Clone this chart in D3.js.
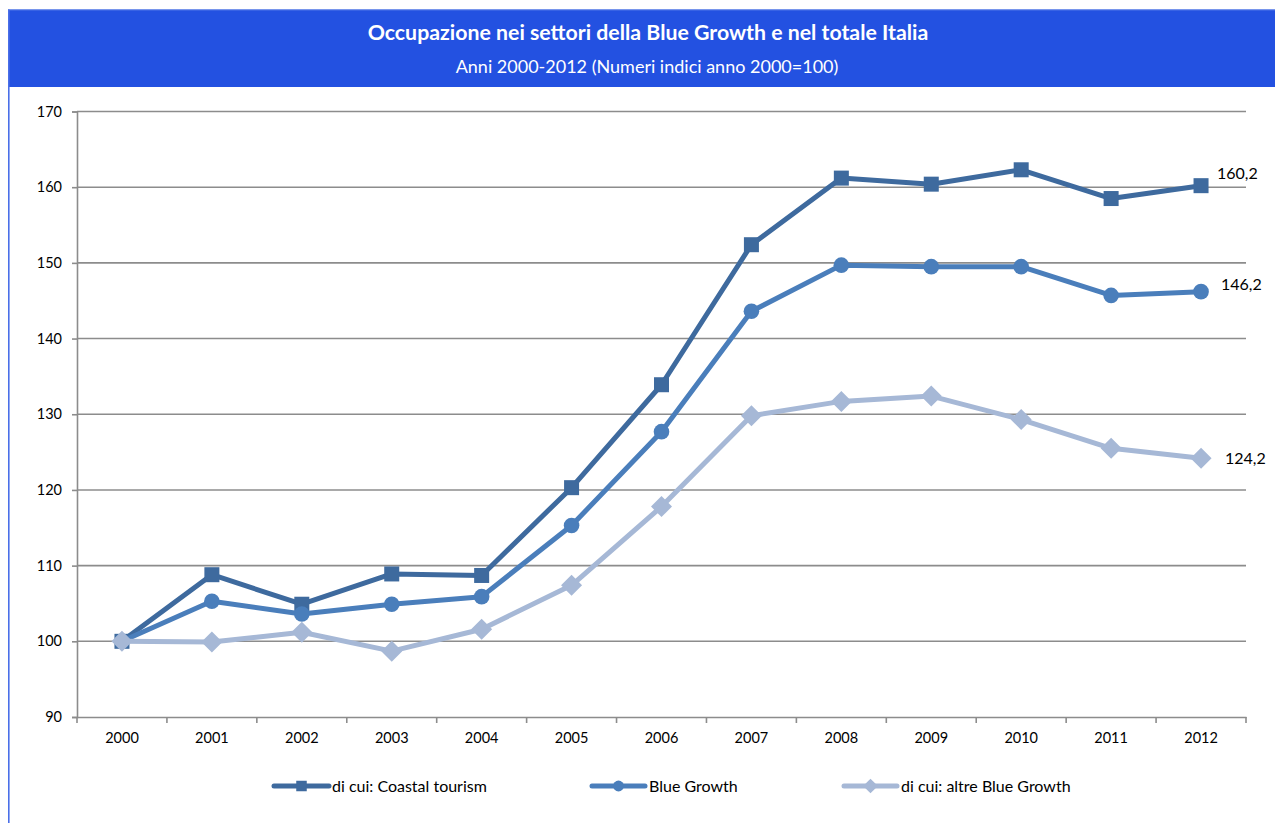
<!DOCTYPE html>
<html>
<head>
<meta charset="utf-8">
<script src="https://cdn.jsdelivr.net/npm/d3@7"></script>
<style>
  html, body { margin: 0; padding: 0; background: #fff; }
  svg { display: block; font-family: Lato, "Open Sans", "Liberation Sans", sans-serif; }
</style>
</head>
<body>
<svg id="chart" width="1275" height="823"></svg>
<script>
// Years on the category axis
const years = ["2000","2001","2002","2003","2004","2005","2006","2007","2008","2009","2010","2011","2012"];

// Index numbers, year 2000 = 100
const coastalTourism = [100, 108.8, 104.9, 108.9, 108.7, 120.3, 133.9, 152.4, 161.2, 160.4, 162.3, 158.5, 160.2];
const blueGrowth     = [100, 105.3, 103.6, 104.9, 105.9, 115.3, 127.7, 143.6, 149.7, 149.5, 149.5, 145.7, 146.2];
const altreBlue      = [100, 99.9, 101.2, 98.7, 101.6, 107.4, 117.8, 129.8, 131.7, 132.4, 129.3, 125.5, 124.2];

const yTicks = [90, 100, 110, 120, 130, 140, 150, 160, 170];

const seriesNames = ["di cui: Coastal tourism", "Blue Growth", "di cui: altre Blue Growth"];
const seriesValues = [coastalTourism, blueGrowth, altreBlue];
const seriesColors = ["#3E6A9E", "#4A7EBB", "#A6B8D6"];
const seriesMarkers = ["square", "circle", "diamond"];

const svg = d3.select("#chart");
const W = 1275, H = 823;

// Header band with a left frame line running down the page
svg.append("rect").attr("x", 8).attr("y", 9.5).attr("width", W - 8).attr("height", 77.5).attr("fill", "#2351E1");
svg.append("line").attr("x1", 8).attr("x2", W).attr("y1", 9.8).attr("y2", 9.8).attr("stroke", "#6F8FEA").attr("stroke-width", 1);
svg.append("line").attr("x1", 8.8).attr("x2", 8.8).attr("y1", 9.5).attr("y2", H).attr("stroke", "#4A6FE8").attr("stroke-width", 1.6);

svg.append("text").attr("x", 648).attr("y", 40).attr("text-anchor", "middle")
  .attr("fill", "#fff").attr("font-size", 21.3).attr("font-weight", "bold")
  .text("Occupazione nei settori della Blue Growth e nel totale Italia");
svg.append("text").attr("x", 647).attr("y", 73).attr("text-anchor", "middle")
  .attr("fill", "#fff").attr("font-size", 18)
  .text("Anni 2000-2012 (Numeri indici anno 2000=100)");

// Plot area
const plotLeft = 77, plotRight = 1246, plotTop = 111.5, plotBottom = 717;
const x = d3.scaleBand().domain(years).range([plotLeft, plotRight]).padding(0);
const y = d3.scaleLinear().domain([90, 170]).range([plotBottom, plotTop]);

// Horizontal gridlines
svg.append("g").selectAll("line").data(yTicks.slice(1)).join("line")
  .attr("x1", plotLeft).attr("x2", plotRight)
  .attr("y1", d => y(d)).attr("y2", d => y(d))
  .attr("stroke", "#8C8C8C").attr("stroke-width", 1.6);

// Y axis
const yAxis = svg.append("g").attr("transform", `translate(${plotLeft},0)`)
  .call(d3.axisLeft(y).tickValues(yTicks).tickSize(5).tickPadding(10).tickFormat(d3.format("d")));
yAxis.select(".domain").attr("stroke", "#8C8C8C").attr("stroke-width", 1.6);
yAxis.selectAll(".tick line").attr("stroke", "#8C8C8C").attr("stroke-width", 1.6);
yAxis.selectAll(".tick text").attr("font-size", 14.5).attr("fill", "#000")
  .attr("font-family", "Lato, 'Open Sans', sans-serif");

// X axis: ticks between categories
const xAxis = svg.append("g").attr("transform", `translate(0,${plotBottom})`)
  .call(d3.axisBottom(x).tickSize(0).tickPadding(16));
xAxis.select(".domain").attr("stroke", "#8C8C8C").attr("stroke-width", 1.6);
xAxis.selectAll(".tick text").attr("font-size", 14.5).attr("fill", "#000")
  .attr("font-family", "Lato, 'Open Sans', sans-serif");
const boundaries = years.map(d => x(d)).concat([plotRight]);
svg.append("g").selectAll("line").data(boundaries).join("line")
  .attr("x1", d => d).attr("x2", d => d)
  .attr("y1", plotBottom).attr("y2", plotBottom + 6)
  .attr("stroke", "#8C8C8C").attr("stroke-width", 1.6);

const cx = d => x(d) + x.bandwidth() / 2;

function drawMarker(g, type, px, py, color, scale) {
  const s = scale || 1;
  if (type === "square") {
    const a = 15 * s;
    g.append("rect").attr("x", px - a / 2).attr("y", py - a / 2).attr("width", a).attr("height", a).attr("fill", color);
  } else if (type === "circle") {
    g.append("circle").attr("cx", px).attr("cy", py).attr("r", 7.8 * s).attr("fill", color);
  } else {
    const r = 10.5 * s;
    g.append("path").attr("d", `M${px},${py - r}L${px + r},${py}L${px},${py + r}L${px - r},${py}Z`).attr("fill", color);
  }
}

// Lines and markers
const line = d3.line().x((d, i) => cx(years[i])).y(d => y(d));
[0, 1, 2].forEach(k => {
  const g = svg.append("g");
  g.append("path").datum(seriesValues[k]).attr("d", line)
    .attr("fill", "none").attr("stroke", seriesColors[k]).attr("stroke-width", 5)
    .attr("stroke-linejoin", "round");
  seriesValues[k].forEach((v, i) => drawMarker(g, seriesMarkers[k], cx(years[i]), y(v), seriesColors[k]));
});

// End labels
const labelOffsets = [{dx: 16, dy: -12}, {dx: 20, dy: -7}, {dx: 24, dy: 0}];
seriesValues.forEach((vals, k) => {
  const v = vals[vals.length - 1];
  svg.append("text")
    .attr("x", cx(years[years.length - 1]) + labelOffsets[k].dx)
    .attr("y", y(v) + labelOffsets[k].dy)
    .attr("dy", "0.35em").attr("font-size", 16).attr("fill", "#000")
    .text(d3.format(".1f")(v).replace(".", ","));
});

// Legend
const legendItems = [
  {x1: 274, x2: 329, tx: 332},
  {x1: 592, x2: 645, tx: 649},
  {x1: 844, x2: 897, tx: 901}
];
const ly = 786;
legendItems.forEach((it, k) => {
  const g = svg.append("g");
  g.append("line").attr("x1", it.x1).attr("x2", it.x2).attr("y1", ly).attr("y2", ly)
    .attr("stroke", seriesColors[k]).attr("stroke-width", 5).attr("stroke-linecap", "round");
  drawMarker(g, seriesMarkers[k], (it.x1 + it.x2) / 2, ly, seriesColors[k], 0.7);
  g.append("text").attr("x", it.tx).attr("y", ly).attr("dy", "0.35em")
    .attr("font-size", 16).attr("fill", "#000").text(seriesNames[k]);
});
</script>
</body>
</html>
